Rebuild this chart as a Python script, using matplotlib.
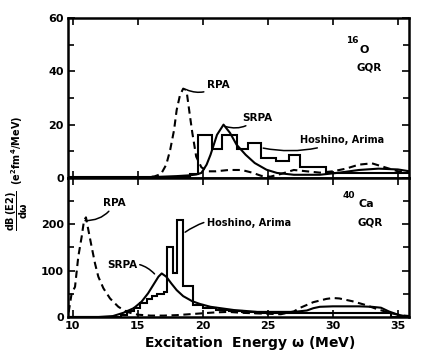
import matplotlib
matplotlib.use("Agg")
import matplotlib.pyplot as plt
from matplotlib.ticker import MultipleLocator, FixedLocator

plt.rcParams["font.family"] = ["DejaVu Sans"]
plt.rcParams["font.weight"] = "bold"
plt.rcParams["mathtext.fontset"] = "dejavusans"
plt.rcParams["mathtext.default"] = "bf"

# ---------------- 16O quadrupole strength (e^2 fm^4 / MeV) ----------------
o16_rpa_E = [9.7, 13.0, 15.5, 16.3, 16.8, 17.2, 17.5, 17.8, 18.0, 18.25, 18.5,
             18.75, 19.0, 19.2, 19.5, 19.9, 20.4, 21.0, 22.0, 23.0, 23.8, 24.5,
             25.2, 26.0, 27.0, 28.0, 29.0, 30.0, 31.0, 32.0, 33.0, 34.0, 35.0, 35.9]
o16_rpa = [0.0, 0.0, 0.2, 0.6, 1.5, 5.0, 10.5, 18.0, 25.5, 31.0, 33.5,
           33.0, 24.0, 17.0, 8.0, 4.0, 2.5, 2.5, 3.0, 3.0, 2.0, 0.8,
           0.5, 1.5, 3.0, 2.5, 2.0, 2.5, 3.5, 5.0, 5.5, 4.0, 2.5, 2.0]

o16_srpa_E = [9.7, 14.0, 16.0, 18.0, 19.0, 19.5, 19.9, 20.3, 20.6, 21.1, 21.6,
              22.1, 22.6, 23.3, 24.0, 24.9, 25.7, 27.0, 29.0, 30.5, 32.0, 33.5,
              35.0, 35.9]
o16_srpa = [0.0, 0.0, 0.3, 0.7, 1.0, 1.3, 1.9, 5.0, 8.7, 16.2, 20.0,
            16.9, 12.5, 8.7, 5.6, 3.1, 1.9, 1.2, 1.2, 2.0, 3.0, 3.5,
            3.2, 2.5]

o16_ha_edges = [9.7, 19.0, 19.65, 20.7, 21.5, 22.6, 23.5, 24.5, 25.6, 26.6,
                27.5, 29.5, 35.9]
o16_ha = [0.3, 1.5, 16.2, 11.0, 16.2, 11.0, 13.0, 7.5, 6.2, 8.7, 4.0, 2.0]

# ---------------- 40Ca quadrupole strength (e^2 fm^4 / MeV) ----------------
ca40_rpa_E = [9.7, 9.93, 10.19, 10.44, 10.7, 10.88, 11.03, 11.22, 11.47, 11.73,
              11.98, 12.37, 12.88, 13.52, 14.17, 15.0, 16.0, 17.0, 18.0, 19.0,
              20.0, 21.0, 22.0, 23.0, 24.0, 25.0, 26.0, 27.0, 27.5, 28.5, 29.5,
              30.0, 30.5, 31.5, 32.5, 33.5, 34.5, 35.0, 35.5, 35.9]
ca40_rpa = [10, 51, 65, 130, 173, 208, 215, 187, 151, 115,
            87, 62, 40, 22, 11, 5, 3, 3, 4, 6,
            8, 10, 11, 9, 8, 7, 6, 12, 20, 32, 39,
            41, 40, 34, 26, 16, 8, 5, 3, 2]

ca40_srpa_E = [9.7, 12.0, 13.1, 13.9, 14.7, 15.3, 15.8, 16.2, 16.6, 16.85, 17.2,
               17.6, 18.0, 18.5, 19.2, 19.8, 20.6, 22.4, 24.2, 25.5, 27.0, 28.0,
               28.5, 29.0, 30.0, 31.0, 32.0, 33.0, 33.7, 34.3, 35.0, 35.5, 35.9]
ca40_srpa = [0, 0, 2, 9, 19, 33, 51, 69, 87, 94, 87,
             72, 58, 45, 34, 28, 22, 15, 11, 11, 11, 14,
             19, 22, 23, 23, 23, 22, 20, 12, 5, 2, 1]

ca40_ha_edges = [9.7, 13.7, 14.2, 14.7, 15.2, 15.7, 16.1, 16.5, 17.0, 17.25,
                 17.7, 18.0, 18.5, 19.25, 20.0, 21.0, 22.0, 23.0, 24.0, 25.0,
                 34.5, 35.9]
ca40_ha = [0, 4, 12, 20, 30, 38, 45, 50, 55, 151, 94, 210, 67, 26, 20, 16,
           13, 10, 9, 8, 0]

x_ticks = [10, 15, 20, 25, 30, 35]
x_tick_labels = ["10", "15", "20", "25", "30", "35"]
top_y_ticks = [0, 20, 40, 60]
bot_y_ticks = [0, 100, 200]

fig = plt.figure(figsize=(4.21, 3.53), dpi=100)
ax_top = fig.add_axes([0.1615, 0.4958, 0.81, 0.4533])
ax_bot = fig.add_axes([0.1615, 0.102, 0.81, 0.3938])

LW = 1.5
dash = (0, (3.5, 2.2))

def style_axes(ax, yticks, yminor, ymax, show_xlabels):
    ax.set_xlim(9.65, 35.85)
    ax.set_ylim(0, ymax)
    ax.xaxis.set_major_locator(FixedLocator(x_ticks))
    ax.yaxis.set_major_locator(FixedLocator(yticks))
    ax.yaxis.set_minor_locator(MultipleLocator(yminor))
    ax.tick_params(which="both", direction="in", top=True, right=True,
                   width=1.2, labelsize=8, pad=3)
    ax.tick_params(which="major", length=5)
    ax.tick_params(which="minor", length=4)
    if show_xlabels:
        ax.set_xticklabels(x_tick_labels, fontweight="bold")
    else:
        ax.set_xticklabels([])
    ax.set_yticklabels([str(v) for v in yticks], fontweight="bold")
    for s in ax.spines.values():
        s.set_linewidth(1.8)

# ---- top: 16O ----
ax_top.plot(o16_rpa_E, o16_rpa, color="black", lw=LW, ls=dash)
ax_top.plot(o16_srpa_E, o16_srpa, color="black", lw=LW)
ax_top.stairs(o16_ha, o16_ha_edges, color="black", lw=LW, baseline=None)
style_axes(ax_top, top_y_ticks, 10, 60, False)

arrow = dict(arrowstyle="-", color="black", lw=1.1, shrinkA=0, shrinkB=0)
ax_top.annotate("RPA", xy=(18.8, 33.0), xytext=(20.3, 35.0), fontsize=7.5,
                va="center", ha="left", fontweight="bold",
                arrowprops=dict(arrow, connectionstyle="arc3,rad=-0.3"))
ax_top.annotate("SRPA", xy=(21.75, 19.3), xytext=(23.0, 22.5), fontsize=7.5,
                va="center", ha="left", fontweight="bold",
                arrowprops=dict(arrow, connectionstyle="arc3,rad=-0.3"))
ax_top.annotate("Hoshino, Arima", xy=(24.65, 11.2), xytext=(27.5, 14.2),
                fontsize=7, va="center", ha="left", fontweight="bold",
                arrowprops=dict(arrow, connectionstyle="arc3,rad=-0.15"))
ax_top.text(31.5, 51.5, "16", fontsize=6.5, ha="center", va="center", fontweight="bold")
ax_top.text(32.4, 48.0, "O", fontsize=8, ha="center", va="center", fontweight="bold")
ax_top.text(32.8, 41.6, "GQR", fontsize=7.5, ha="center", va="center", fontweight="bold")

# ---- bottom: 40Ca ----
ax_bot.plot(ca40_rpa_E, ca40_rpa, color="black", lw=LW, ls=dash)
ax_bot.plot(ca40_srpa_E, ca40_srpa, color="black", lw=LW)
ax_bot.stairs(ca40_ha, ca40_ha_edges, color="black", lw=LW, baseline=None)
style_axes(ax_bot, bot_y_ticks, 50, 300, True)

ax_bot.annotate("RPA", xy=(10.96, 208), xytext=(12.35, 245), fontsize=7.5,
                va="center", ha="left", fontweight="bold",
                arrowprops=dict(arrow, connectionstyle="arc3,rad=-0.3"))
ax_bot.annotate("SRPA", xy=(16.3, 93), xytext=(14.95, 112), fontsize=7.5,
                va="center", ha="right", fontweight="bold",
                arrowprops=dict(arrow, connectionstyle="arc3,rad=-0.3"))
ax_bot.annotate("Hoshino, Arima", xy=(18.65, 183), xytext=(20.3, 203),
                fontsize=7, va="center", ha="left", fontweight="bold",
                arrowprops=dict(arrow, connectionstyle="arc3,rad=0.25"))
ax_bot.text(31.2, 262, "40", fontsize=6.5, ha="center", va="center", fontweight="bold")
ax_bot.text(32.6, 244, "Ca", fontsize=8, ha="center", va="center", fontweight="bold")
ax_bot.text(32.85, 204, "GQR", fontsize=7.5, ha="center", va="center", fontweight="bold")

fig.text(0.042, 0.51,
         r"$\dfrac{dB\,(E2)}{d\omega}$  (e$^2$fm$^4$/MeV)",
         rotation=90, ha="center", va="center", fontsize=7, fontweight="bold")
fig.text(0.594, 0.028, r"Excitation  Energy $\omega$ (MeV)", ha="center",
         va="center", fontsize=10, fontweight="bold")

fig.savefig("out.png", dpi=100)
